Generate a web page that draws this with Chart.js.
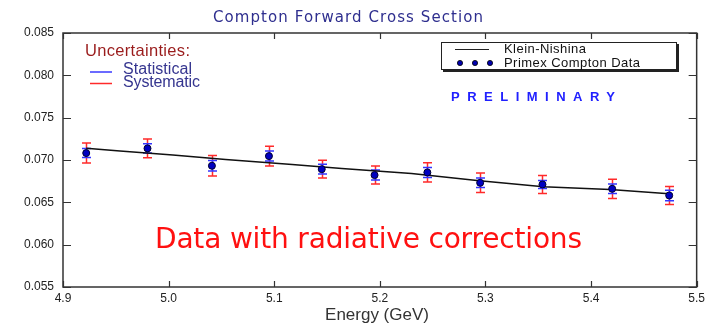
<!DOCTYPE html>
<html>
<head>
<meta charset="utf-8">
<script src="https://cdn.jsdelivr.net/npm/chart.js@4"></script>
<style>
  html, body { margin: 0; padding: 0; background: #fff; }
  #wrap { width: 709px; height: 327px; }
</style>
</head>
<body>
<div id="wrap"><canvas id="chart" width="709" height="327"></canvas></div>
<script>
// --- Data ---
const energy  = [4.922, 4.980, 5.041, 5.095, 5.145, 5.195, 5.245, 5.295, 5.354, 5.420, 5.474];
const sigma   = [0.07082, 0.07137, 0.06932, 0.07046, 0.06892, 0.06822, 0.06853, 0.06731, 0.06711, 0.06660, 0.06581];
const statErr = [0.00053, 0.00055, 0.00061, 0.00059, 0.00057, 0.00059, 0.00059, 0.00057, 0.00047, 0.00057, 0.00061];
const sysErr  = [0.00118, 0.00110, 0.00120, 0.00116, 0.00106, 0.00106, 0.00114, 0.00114, 0.00106, 0.00114, 0.00106];

const knEnergy = [4.922, 4.954, 5.004, 5.054, 5.117, 5.164, 5.230, 5.292, 5.355, 5.418, 5.477];
const knSigma  = [0.07138, 0.07105, 0.07058, 0.07007, 0.06948, 0.06900, 0.06840, 0.06759, 0.06684, 0.06652, 0.06597];

const xTicks = [4.9, 5.0, 5.1, 5.2, 5.3, 5.4, 5.5];
const yTicks = [0.055, 0.060, 0.065, 0.070, 0.075, 0.080, 0.085];

const FONT = '"Liberation Sans", Arial, sans-serif';

// --- Helpers ---
function fitText(ctx, text, width) {
  // letter spacing so the text spans the given width
  ctx.letterSpacing = '0px';
  const w = ctx.measureText(text).width;
  const ls = (width - w) / Math.max(1, text.length - 1);
  ctx.letterSpacing = ls + 'px';
}

// --- Error bars, frame, inner ticks, annotations ---
const errorBars = {
  id: 'errorBars',
  beforeDatasetsDraw(chart) {
    const { ctx, scales: { x, y } } = chart;
    ctx.save();
    const drawBar = (i, err, color, cap) => {
      const px = Math.round(x.getPixelForValue(energy[i])) + 0.5;
      const top = y.getPixelForValue(sigma[i] + err);
      const bot = y.getPixelForValue(sigma[i] - err);
      ctx.strokeStyle = color;
      ctx.lineWidth = 1.5;
      ctx.beginPath();
      ctx.moveTo(px, top); ctx.lineTo(px, bot);
      ctx.moveTo(px - cap, top); ctx.lineTo(px + cap, top);
      ctx.moveTo(px - cap, bot); ctx.lineTo(px + cap, bot);
      ctx.stroke();
    };
    energy.forEach((e, i) => drawBar(i, sysErr[i], '#ff2a2a', 4.5));
    energy.forEach((e, i) => drawBar(i, statErr[i], '#3434ff', 4.5));
    ctx.restore();
  },
  afterDraw(chart) {
    const { ctx, chartArea: a, scales: { x, y } } = chart;
    ctx.save();
    // frame
    ctx.strokeStyle = '#333';
    ctx.lineWidth = 1.5;
    ctx.strokeRect(a.left, a.top, a.right - a.left, a.bottom - a.top);
    // inward ticks on all four sides
    ctx.lineWidth = 1.2;
    ctx.beginPath();
    xTicks.forEach(v => {
      const px = Math.round(x.getPixelForValue(v)) + 0.5;
      ctx.moveTo(px, a.bottom); ctx.lineTo(px, a.bottom - 6);
      ctx.moveTo(px, a.top); ctx.lineTo(px, a.top + 6);
    });
    yTicks.forEach(v => {
      const py = Math.round(y.getPixelForValue(v)) + 0.5;
      ctx.moveTo(a.left, py); ctx.lineTo(a.left + 8, py);
      ctx.moveTo(a.right, py); ctx.lineTo(a.right - 8, py);
    });
    ctx.stroke();

    // title
    ctx.fillStyle = '#2e2e8e';
    ctx.font = '15px "DejaVu Sans", sans-serif';
    ctx.textBaseline = 'middle';
    ctx.textAlign = 'left';
    fitText(ctx, 'Compton Forward Cross Section', 270);
    ctx.fillText('Compton Forward Cross Section', 213, 18);
    ctx.letterSpacing = '0px';

    // axis title
    ctx.fillStyle = '#333';
    ctx.font = '17px ' + FONT;
    ctx.textAlign = 'center';
    ctx.fillText('Energy (GeV)', 377, 315);

    // uncertainties note
    ctx.textAlign = 'left';
    ctx.fillStyle = '#9a1c1c';
    ctx.font = '16.5px ' + FONT;
    fitText(ctx, 'Uncertainties:', 105);
    ctx.fillText('Uncertainties:', 85, 51);
    ctx.fillStyle = '#35358f';
    ctx.font = '16px ' + FONT;
    fitText(ctx, 'Statistical', 69);
    ctx.fillText('Statistical', 123, 69.5);
    fitText(ctx, 'Systematic', 77);
    ctx.fillText('Systematic', 123, 82.5);
    ctx.letterSpacing = '0px';
    ctx.lineWidth = 1.5;
    ctx.strokeStyle = '#3a3aff';
    ctx.beginPath(); ctx.moveTo(90, 72); ctx.lineTo(112, 72); ctx.stroke();
    ctx.strokeStyle = '#ff2a2a';
    ctx.beginPath(); ctx.moveTo(90, 83.5); ctx.lineTo(112, 83.5); ctx.stroke();

    // legend box with shadow
    ctx.fillStyle = '#222';
    ctx.fillRect(443, 44, 236, 28);
    ctx.fillStyle = '#fff';
    ctx.fillRect(441, 42, 236, 28);
    ctx.strokeStyle = '#222';
    ctx.lineWidth = 1;
    ctx.strokeRect(441.5, 42.5, 235, 27);
    ctx.lineWidth = 1.2;
    ctx.beginPath(); ctx.moveTo(455, 49.5); ctx.lineTo(489, 49.5); ctx.stroke();
    [460, 475, 490].forEach(cx => {
      ctx.beginPath();
      ctx.arc(cx, 63, 2.6, 0, Math.PI * 2);
      ctx.fillStyle = '#0000b0';
      ctx.fill();
      ctx.strokeStyle = '#000';
      ctx.lineWidth = 0.8;
      ctx.stroke();
    });
    ctx.fillStyle = '#111';
    ctx.font = '13px ' + FONT;
    fitText(ctx, 'Klein-Nishina', 82);
    ctx.fillText('Klein-Nishina', 504, 49);
    fitText(ctx, 'Primex Compton Data', 136);
    ctx.fillText('Primex Compton Data', 504, 63);
    ctx.letterSpacing = '0px';

    // preliminary
    ctx.fillStyle = '#2020ff';
    ctx.font = 'bold 13px ' + FONT;
    fitText(ctx, 'PRELIMINARY', 164);
    ctx.fillText('PRELIMINARY', 451, 97);
    ctx.letterSpacing = '0px';

    // red note
    ctx.fillStyle = '#ff1010';
    ctx.font = '28px "DejaVu Sans", sans-serif';
    fitText(ctx, 'Data with radiative corrections', 427);
    ctx.fillText('Data with radiative corrections', 155, 241);
    ctx.letterSpacing = '0px';
    ctx.restore();
  }
};

// --- Chart ---
new Chart(document.getElementById('chart').getContext('2d'), {
  type: 'scatter',
  data: {
    datasets: [
      {
        label: 'Klein-Nishina',
        data: knEnergy.map((e, i) => ({ x: e, y: knSigma[i] })),
        showLine: true,
        borderColor: '#111',
        borderWidth: 1.5,
        pointRadius: 0,
        tension: 0,
        order: 2,
      },
      {
        label: 'Primex Compton Data',
        data: energy.map((e, i) => ({ x: e, y: sigma[i] })),
        pointRadius: 3.5,
        backgroundColor: '#0000c0',
        borderColor: '#000030',
        borderWidth: 1,
        order: 1,
      },
    ]
  },
  options: {
    responsive: false,
    animation: false,
    devicePixelRatio: 1,
    layout: { padding: { left: 0, top: 33, right: 8, bottom: 0 } },
    plugins: {
      legend: { display: false },
      tooltip: { enabled: false },
    },
    scales: {
      x: {
        type: 'linear',
        min: 4.9,
        max: 5.5,
        afterFit: s => { s.height = 40; },
        afterBuildTicks: s => { s.ticks = xTicks.map(v => ({ value: v })); },
        grid: { display: false, drawTicks: false },
        border: { display: false },
        ticks: {
          padding: 4,
          color: '#222',
          font: { size: 12, family: FONT },
          maxRotation: 0,
          callback: v => v.toFixed(1),
        }
      },
      y: {
        type: 'linear',
        min: 0.055,
        max: 0.085,
        afterFit: s => { s.width = 63; },
        afterBuildTicks: s => { s.ticks = yTicks.map(v => ({ value: v })); },
        grid: { display: false, drawTicks: false },
        border: { display: false },
        ticks: {
          padding: 9,
          color: '#222',
          font: { size: 12, family: FONT },
          callback: v => v.toFixed(3),
        }
      }
    }
  },
  plugins: [errorBars]
});
</script>
</body>
</html>
